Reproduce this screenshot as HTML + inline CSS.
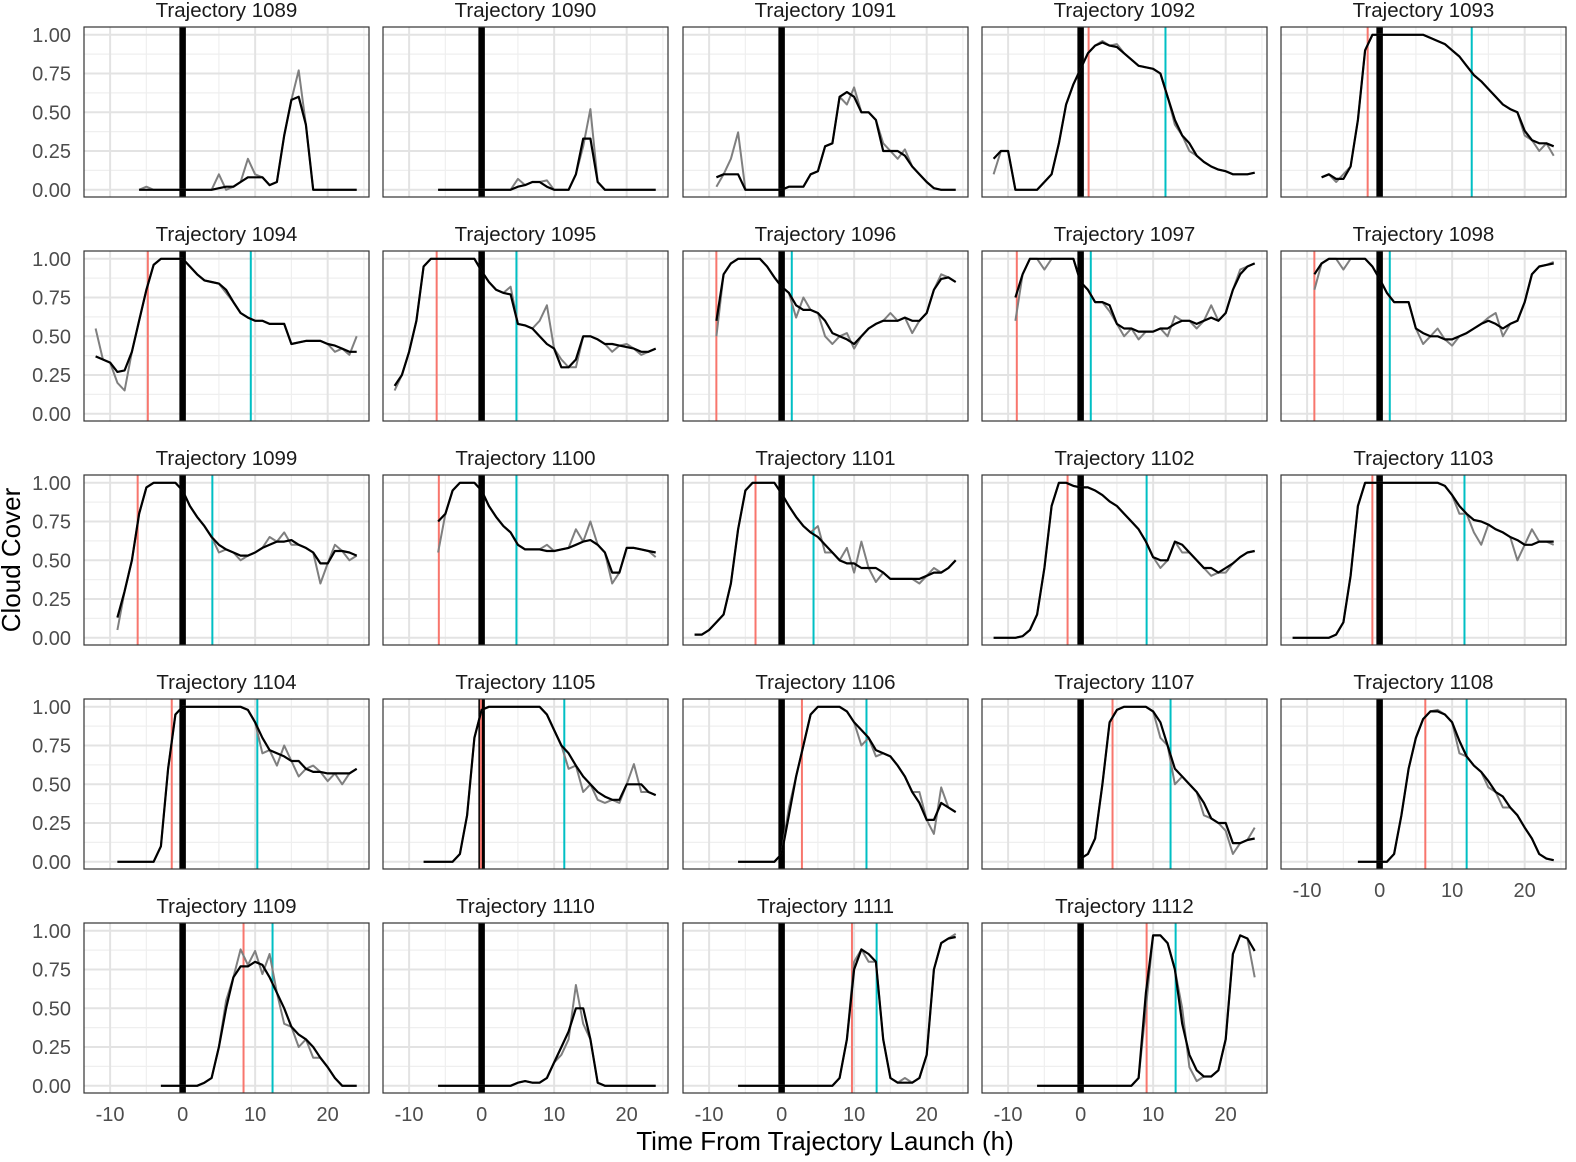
<!DOCTYPE html>
<html><head><meta charset="utf-8"><style>
body{margin:0;background:#fff;}
svg{display:block;font-family:"Liberation Sans",sans-serif;}
</style></head><body>
<svg id="chart" width="1576" height="1162" viewBox="0 0 1576 1162"></svg>
<script>
// ---- data ----
const trajectoryIds = [1089,1090,1091,1092,1093,1094,1095,1096,1097,1098,1099,1100,1101,1102,1103,1104,1105,1106,1107,1108,1109,1110,1111,1112];
const startHours = [-6,-6,-9,-12,-8,-12,-12,-9,-9,-9,-9,-6,-12,-12,-12,-9,-8,-6,0,-3,-3,-6,-6,-6];
const redLines = [null,null,null,1.1,-1.65,-4.8,-6.2,-9,-8.8,-9,-6.2,-5.9,-3.6,-1.8,-1,-1.5,-0.1,2.8,4.4,6.3,8.4,null,9.7,9.1];
const cyanLines = [null,null,null,11.7,12.7,9.4,4.8,1.4,1.4,1.4,4.1,4.8,4.4,9.1,11.7,10.3,11.4,11.7,12.4,12,12.4,null,13.1,13.1];
const smoothSeries = [
 [0,0,0,0,0,0,0,0,0,0,0,0.01,0.02,0.02,0.05,0.08,0.08,0.08,0.03,0.05,0.35,0.58,0.6,0.42,0,0,0,0,0,0,0],
 [0,0,0,0,0,0,0,0,0,0,0,0.02,0.03,0.05,0.05,0.02,0,0,0,0.1,0.33,0.33,0.05,0,0,0,0,0,0,0,0],
 [0.08,0.1,0.1,0.1,0,0,0,0,0,0,0.02,0.02,0.02,0.1,0.12,0.28,0.3,0.6,0.63,0.6,0.5,0.5,0.45,0.25,0.25,0.25,0.22,0.15,0.1,0.05,0.01,0,0,0],
 [0.2,0.25,0.25,0,0,0,0,0.05,0.1,0.3,0.55,0.68,0.78,0.88,0.93,0.95,0.93,0.92,0.88,0.84,0.8,0.79,0.78,0.75,0.6,0.45,0.35,0.3,0.22,0.18,0.15,0.13,0.12,0.1,0.1,0.1,0.11],
 [0.08,0.1,0.07,0.07,0.15,0.45,0.9,1,1,1,1,1,1,1,1,0.98,0.96,0.94,0.9,0.86,0.8,0.74,0.7,0.65,0.6,0.55,0.52,0.5,0.38,0.32,0.3,0.3,0.28],
 [0.37,0.35,0.33,0.27,0.28,0.4,0.6,0.8,0.96,1,1,1,1,0.95,0.9,0.86,0.85,0.84,0.8,0.72,0.65,0.62,0.6,0.6,0.58,0.58,0.58,0.45,0.46,0.47,0.47,0.47,0.45,0.44,0.42,0.4,0.4],
 [0.18,0.25,0.4,0.6,0.95,1,1,1,1,1,1,1,0.92,0.85,0.8,0.78,0.77,0.58,0.57,0.55,0.5,0.45,0.42,0.3,0.3,0.35,0.5,0.5,0.48,0.45,0.45,0.44,0.43,0.42,0.4,0.4,0.42],
 [0.6,0.9,0.97,1,1,1,1,0.95,0.88,0.82,0.78,0.7,0.67,0.67,0.65,0.6,0.52,0.5,0.48,0.45,0.5,0.55,0.58,0.6,0.6,0.6,0.62,0.6,0.6,0.65,0.8,0.87,0.88,0.85],
 [0.75,0.9,1,1,1,1,1,1,1,0.85,0.8,0.72,0.72,0.7,0.58,0.55,0.55,0.53,0.53,0.53,0.55,0.55,0.58,0.6,0.6,0.58,0.6,0.62,0.6,0.65,0.8,0.9,0.95,0.97],
 [0.9,0.97,1,1,1,1,1,1,0.95,0.87,0.78,0.72,0.72,0.72,0.55,0.52,0.5,0.5,0.48,0.48,0.5,0.52,0.55,0.58,0.6,0.58,0.55,0.58,0.6,0.72,0.9,0.95,0.96,0.97],
 [0.13,0.3,0.5,0.8,0.97,1,1,1,1,0.95,0.85,0.78,0.72,0.65,0.6,0.57,0.55,0.53,0.53,0.55,0.58,0.6,0.62,0.62,0.63,0.6,0.58,0.55,0.48,0.48,0.56,0.56,0.55,0.53],
 [0.75,0.8,0.95,1,1,1,0.95,0.85,0.78,0.72,0.68,0.6,0.57,0.57,0.57,0.56,0.56,0.57,0.58,0.6,0.62,0.63,0.6,0.55,0.42,0.42,0.58,0.58,0.57,0.56,0.55],
 [0.02,0.02,0.05,0.1,0.15,0.35,0.7,0.95,1,1,1,1,0.93,0.85,0.78,0.72,0.68,0.65,0.6,0.55,0.5,0.48,0.48,0.45,0.45,0.45,0.42,0.38,0.38,0.38,0.38,0.38,0.4,0.42,0.42,0.45,0.5],
 [0,0,0,0,0.01,0.05,0.15,0.45,0.85,1,1,0.98,0.97,0.97,0.95,0.92,0.88,0.85,0.8,0.75,0.7,0.62,0.52,0.5,0.5,0.62,0.6,0.55,0.5,0.45,0.45,0.42,0.45,0.48,0.52,0.55,0.56],
 [0,0,0,0,0,0,0.02,0.1,0.4,0.85,1,1,1,1,1,1,1,1,1,1,1,0.98,0.92,0.85,0.8,0.76,0.75,0.73,0.7,0.68,0.65,0.63,0.6,0.6,0.62,0.62,0.62],
 [0,0,0,0,0,0,0.1,0.6,0.95,1,1,1,1,1,1,1,1,1,0.98,0.9,0.8,0.72,0.7,0.68,0.65,0.65,0.6,0.58,0.58,0.57,0.57,0.57,0.57,0.6],
 [0,0,0,0,0,0.05,0.3,0.8,0.98,1,1,1,1,1,1,1,1,0.95,0.85,0.75,0.7,0.62,0.55,0.5,0.45,0.42,0.4,0.4,0.5,0.5,0.5,0.45,0.43],
 [0,0,0,0,0,0,0.05,0.3,0.55,0.75,0.95,1,1,1,1,0.97,0.9,0.85,0.8,0.72,0.7,0.68,0.62,0.55,0.45,0.38,0.27,0.27,0.38,0.35,0.32],
 [0.02,0.05,0.15,0.5,0.9,0.98,1,1,1,1,0.97,0.9,0.75,0.6,0.55,0.5,0.45,0.38,0.28,0.25,0.25,0.12,0.12,0.14,0.15],
 [0,0,0,0,0,0.05,0.3,0.6,0.8,0.92,0.97,0.97,0.95,0.9,0.78,0.68,0.62,0.58,0.52,0.45,0.42,0.35,0.3,0.22,0.15,0.05,0.02,0.01],
 [0,0,0,0,0,0,0.02,0.05,0.25,0.5,0.7,0.77,0.77,0.8,0.78,0.7,0.6,0.5,0.38,0.33,0.3,0.25,0.18,0.12,0.05,0,0,0],
 [0,0,0,0,0,0,0,0,0,0,0,0.02,0.03,0.02,0.02,0.05,0.15,0.25,0.35,0.5,0.5,0.3,0.02,0,0,0,0,0,0,0,0],
 [0,0,0,0,0,0,0,0,0,0,0,0,0,0,0.05,0.3,0.75,0.88,0.85,0.8,0.3,0.05,0.02,0.02,0.02,0.05,0.2,0.75,0.92,0.95,0.96],
 [0,0,0,0,0,0,0,0,0,0,0,0,0,0,0.05,0.6,0.97,0.97,0.92,0.75,0.4,0.2,0.1,0.06,0.06,0.1,0.3,0.85,0.97,0.95,0.87]
];
// raw series: points [hour, value] where raw differs from smoothed
const rawOverrides = [
 [[-5,0.02],[5,0.1],[6,0],[9,0.2],[10,0.1],[16,0.77]],
 [[5,0.07],[9,0.06],[15,0.52],[14,0.28]],
 [[-9,0.02],[-7,0.2],[-6,0.37],[9,0.55],[10,0.66],[14,0.3],[16,0.2],[17,0.26]],
 [[-12,0.1],[3,0.96],[5,0.94],[13,0.42],[15,0.25]],
 [[-6,0.05],[-5,0.1],[20,0.35],[22,0.25],[24,0.22]],
 [[-12,0.55],[-9,0.2],[-8,0.15],[6,0.78],[21,0.4],[23,0.38],[24,0.5]],
 [[-12,0.15],[4,0.82],[8,0.6],[9,0.7],[11,0.35],[13,0.3],[18,0.4],[20,0.45],[22,0.38]],
 [[-9,0.5],[2,0.62],[3,0.75],[6,0.5],[7,0.45],[9,0.52],[10,0.42],[15,0.65],[18,0.52],[22,0.9]],
 [[-9,0.6],[-5,0.93],[4,0.66],[6,0.5],[8,0.48],[12,0.5],[13,0.63],[16,0.55],[18,0.7],[22,0.93]],
 [[-9,0.8],[-5,0.93],[6,0.45],[8,0.55],[10,0.44],[15,0.62],[16,0.65],[17,0.5],[24,0.98]],
 [[-9,0.05],[5,0.55],[8,0.5],[12,0.65],[14,0.68],[15,0.6],[19,0.35],[21,0.6],[23,0.5]],
 [[-6,0.55],[9,0.6],[13,0.7],[15,0.75],[18,0.35],[24,0.52]],
 [[5,0.72],[6,0.55],[9,0.58],[10,0.42],[11,0.62],[13,0.36],[19,0.35],[21,0.45]],
 [[11,0.45],[14,0.55],[18,0.4],[20,0.42]],
 [[11,0.8],[13,0.68],[14,0.6],[19,0.5],[21,0.7],[24,0.6]],
 [[11,0.7],[13,0.62],[14,0.75],[16,0.55],[18,0.62],[20,0.52],[22,0.5]],
 [[12,0.6],[14,0.45],[16,0.4],[17,0.38],[19,0.38],[21,0.63],[22,0.45]],
 [[1,0.35],[11,0.75],[13,0.68],[17,0.55],[19,0.45],[21,0.18],[22,0.48]],
 [[11,0.8],[13,0.5],[17,0.3],[20,0.2],[21,0.05],[24,0.22]],
 [[8,0.98],[11,0.7],[15,0.48],[17,0.35]],
 [[6,0.55],[8,0.88],[9,0.78],[10,0.87],[11,0.72],[12,0.85],[14,0.4],[16,0.25],[18,0.18]],
 [[12,0.3],[13,0.65],[14,0.4],[11,0.2]],
 [[10,0.8],[12,0.8],[17,0.05],[24,0.98]],
 [[9,0.5],[14,0.5],[15,0.12],[16,0.03],[24,0.7]]
];
const xTicks = [-10,0,10,20];
const yTicks = [0,0.25,0.5,0.75,1];
const yTickLabels = ["0.00","0.25","0.50","0.75","1.00"];

// ---- layout ----
const NS = "http://www.w3.org/2000/svg";
const svg = document.getElementById('chart');
const colLefts = [84,383,683,982,1281];
const rowTops = [27,251,475,699,923];
const PW = 285, PH = 170;
const X0 = -13.6, X1 = 25.7;
function mk(tag, attrs, parent){ const e=document.createElementNS(NS,tag); for(const k in attrs) e.setAttribute(k,attrs[k]); (parent||svg).appendChild(e); return e; }
function sx(left,t){ return left + (t - X0)/(X1 - X0)*PW; }
function sy(top,v){ return top + 7.75 + (1 - v)*155; }

trajectoryIds.forEach((id,i)=>{
  const r = Math.floor(i/5), c = i%5;
  const L = colLefts[c], T = rowTops[r];
  const g = mk('g',{});
  
  
  [-15,-5,5,15,25].forEach(t=>{ const x=sx(L,t); if(x>L&&x<L+PW) mk('line',{x1:x,x2:x,y1:T,y2:T+PH,stroke:'#efefef','stroke-width':1.2},g); });
  [0.125,0.375,0.625,0.875].forEach(v=>{ const y=sy(T,v); mk('line',{x1:L,x2:L+PW,y1:y,y2:y,stroke:'#efefef','stroke-width':1.2},g); });
  xTicks.forEach(t=>{ const x=sx(L,t); mk('line',{x1:x,x2:x,y1:T,y2:T+PH,stroke:'#e3e3e3','stroke-width':2},g); });
  yTicks.forEach(v=>{ const y=sy(T,v); mk('line',{x1:L,x2:L+PW,y1:y,y2:y,stroke:'#e3e3e3','stroke-width':2},g); });
  const zl = mk('line',{x1:sx(L,0),x2:sx(L,0),y1:T,y2:T+PH,stroke:'#000','stroke-width':6.5},g);
  
  
  if(redLines[i]!==null){ const e=mk('line',{x1:sx(L,redLines[i]),x2:sx(L,redLines[i]),y1:T,y2:T+PH,stroke:'#F8766D','stroke-width':2},g);
    
     }
  if(cyanLines[i]!==null){ const e=mk('line',{x1:sx(L,cyanLines[i]),x2:sx(L,cyanLines[i]),y1:T,y2:T+PH,stroke:'#00BFC4','stroke-width':2},g);
    
     }
  const s = smoothSeries[i], st = startHours[i];
  const raw = s.slice();
  rawOverrides[i].forEach(p=>{ const k=p[0]-st; if(k>=0&&k<raw.length) raw[k]=p[1]; });
  const toPath = arr => arr.map((v,k)=>(k?'L':'M')+sx(L,st+k).toFixed(1)+' '+sy(T,v).toFixed(1)).join(' ');
  const gp = mk('path',{d:toPath(raw),fill:'none',stroke:'#7f7f7f','stroke-width':2,'stroke-linejoin':'round'},g);
  
  
  const bp = mk('path',{d:toPath(s),fill:'none',stroke:'#000','stroke-width':2.2,'stroke-linejoin':'round'},g);
  
  
  mk('rect',{x:L,y:T,width:PW,height:PH,fill:'none',stroke:'#333','stroke-width':1.2},g);
  const tt = mk('text',{x:L+PW/2,y:T-10,'text-anchor':'middle','font-size':20.5,fill:'#1a1a1a'},g);
  tt.textContent = 'Trajectory '+id;
  
  
  if(c===0){ yTicks.forEach((v,k)=>{ const e=mk('text',{x:L-13,y:sy(T,v)+7,'text-anchor':'end','font-size':20,fill:'#4d4d4d'},g); e.textContent=yTickLabels[k];
    
     }); }
  if(r===4 || (r===3 && c===4)){ xTicks.forEach(t=>{ const e=mk('text',{x:sx(L,t),y:T+PH+28,'text-anchor':'middle','font-size':20,fill:'#4d4d4d'},g); e.textContent=t;
    
     }); }
});
const yt = mk('text',{x:0,y:0,transform:'translate(20,560) rotate(-90)','text-anchor':'middle','font-size':26,fill:'#000'});
yt.textContent='Cloud Cover';


const xt = mk('text',{x:825,y:1150,'text-anchor':'middle','font-size':26,fill:'#000'});
xt.textContent='Time From Trajectory Launch (h)';


</script>
</body></html>
